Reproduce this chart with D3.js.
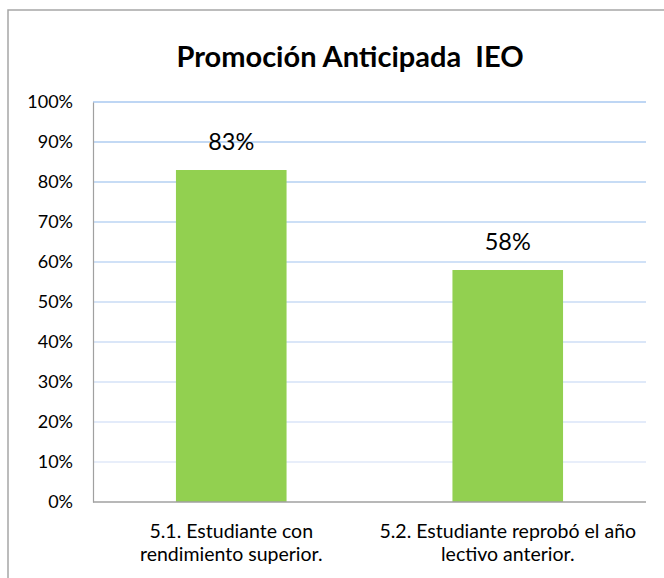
<!DOCTYPE html>
<html><head><meta charset="utf-8">
<script src="https://cdn.jsdelivr.net/npm/d3@7"></script>
<style>body{margin:0;background:#fff;} svg{display:block;}</style>
</head><body>
<script>
const title = "Promoción Anticipada  IEO";
const categories = [
  ["5.1. Estudiante con", "rendimiento superior."],
  ["5.2. Estudiante reprobó el año", "lectivo anterior."]
];
const values = [0.83, 0.58];
const valueLabels = ["83%", "58%"];
const yTicks = [0,0.1,0.2,0.3,0.4,0.5,0.6,0.7,0.8,0.9,1.0];

const W = 664, H = 578;
const font = "Lato, 'Open Sans', sans-serif";
const svg = d3.select("body").append("svg").attr("width", W).attr("height", H);
svg.append("rect").attr("width", W).attr("height", H).attr("fill", "#fff");
svg.append("rect").attr("x", 8).attr("y", 10).attr("width", 800).attr("height", 800)
  .attr("fill", "none").attr("stroke", "#a6a6a6").attr("stroke-width", 1.5);

const x = d3.scaleBand().domain(d3.range(categories.length)).range([93, 646]).padding(0);
const y = d3.scaleLinear().domain([0, 1]).range([502, 102]);

const gridColor = d3.interpolateRgb("#e6ecfa", "#a9c9f0");
svg.append("g").selectAll("line").data(yTicks.filter(d => d > 0)).join("line")
  .attr("x1", 93).attr("x2", 646).attr("y1", d => y(d)).attr("y2", d => y(d))
  .attr("stroke", d => gridColor(d)).attr("stroke-width", 1.3);

const yAxis = d3.axisLeft(y).tickValues(yTicks).tickFormat(d3.format(".0%")).tickSize(0).tickPadding(20);
const ga = svg.append("g").attr("transform", "translate(93,0)").call(yAxis);
ga.select(".domain").attr("stroke", "#a0a0a0").attr("stroke-width", 1.2);
ga.selectAll("text").attr("font-family", font).attr("font-size", 18).attr("fill", "#000");

const bw = x.bandwidth() * 0.4;
svg.append("g").selectAll("rect").data(values).join("rect")
  .attr("x", (d, i) => x(i) + x.bandwidth()/2 - bw/2)
  .attr("width", bw)
  .attr("y", d => y(d))
  .attr("height", d => y(0) - y(d))
  .attr("fill", "#92d050");

svg.append("line").attr("x1", 93).attr("x2", 646).attr("y1", y(0)).attr("y2", y(0))
  .attr("stroke", "#a0a0a0").attr("stroke-width", 1.3);

svg.append("g").selectAll("text").data(values).join("text")
  .attr("x", (d, i) => x(i) + x.bandwidth()/2)
  .attr("y", d => y(d) - 20)
  .attr("text-anchor", "middle")
  .attr("font-family", font).attr("font-size", 23.5).attr("fill", "#000")
  .text((d, i) => valueLabels[i]);

const cg = svg.append("g").selectAll("text").data(categories).join("text")
  .attr("x", (d, i) => x(i) + x.bandwidth()/2)
  .attr("y", 538)
  .attr("text-anchor", "middle")
  .attr("font-family", font).attr("font-size", 19.5).attr("fill", "#000");
cg.selectAll("tspan").data(d => d).join("tspan")
  .attr("x", function() { return this.parentNode.getAttribute("x"); })
  .attr("dy", (d, i) => i === 0 ? 0 : 23)
  .text(d => d);

svg.append("text").attr("x", 350).attr("y", 67).attr("text-anchor", "middle")
  .attr("font-family", font).attr("font-weight", "bold").attr("font-size", 29)
  .attr("fill", "#000").style("white-space", "pre").text(title);
</script>
</body></html>
